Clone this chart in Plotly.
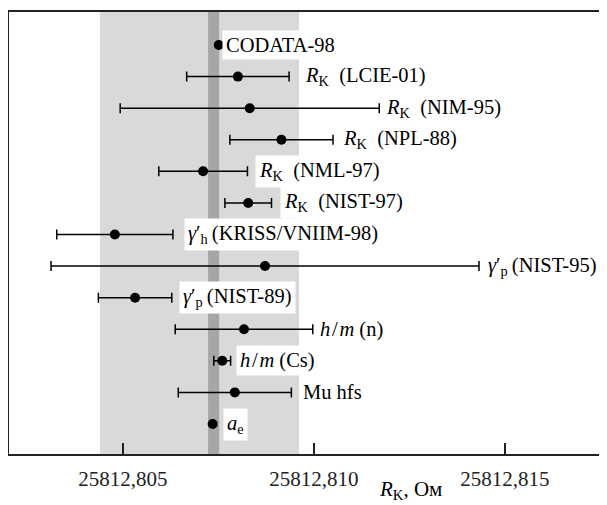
import plotly.graph_objects as go

# Data (values in Ohm)
labels = [
    "CODATA-98",
    "<i>R</i><sub>K</sub>\u2002(LCIE-01)",
    "<i>R</i><sub>K</sub>\u2002(NIM-95)",
    "<i>R</i><sub>K</sub>\u2002(NPL-88)",
    "<i>R</i><sub>K</sub>\u2002(NML-97)",
    "<i>R</i><sub>K</sub>\u2002(NIST-97)",
    "<i>γ</i>′<sub>h</sub>\u2009(KRISS/VNIIM-98)",
    "<i>γ</i>′<sub>p</sub>\u2009(NIST-95)",
    "<i>γ</i>′<sub>p</sub>\u2009(NIST-89)",
    "<i>h</i>\u200a/\u200a<i>m</i> (n)",
    "<i>h</i>\u200a/\u200a<i>m</i> (Cs)",
    "Mu hfs",
    "<i>a</i><sub>e</sub>",
]
values = [
    25812.80751, 25812.80801, 25812.80832, 25812.80915, 25812.80710,
    25812.80828, 25812.80479, 25812.80872, 25812.80532, 25812.80817,
    25812.80760, 25812.80793, 25812.80735,
]
errors = [
    0.0, 0.00134, 0.00339, 0.00135, 0.00116,
    0.00061, 0.00152, 0.00560, 0.00096, 0.00180,
    0.00022, 0.00148, 0.0,
]
rows = list(range(len(labels) - 1, -1, -1))

band_wide = (25812.80440, 25812.80961)
band_codata = (25812.80723, 25812.80752)

tick_vals = [25812.805, 25812.810, 25812.815]
tick_text = ["25812,805", "25812,810", "25812,815"]
x_title = "<i>R</i><sub>K</sub>, Ом"

# label pixel offsets (styling only)
label_shift = [3, 12, 3, 6, 8, 8, 11, 5, 7, 3, 5, 8, 10]

FONT = "Liberation Serif"

fig = go.Figure()
fig.add_trace(go.Scatter(
    x=values, y=rows, mode="markers",
    marker=dict(color="black", size=10),
    error_x=dict(type="data", array=errors, symmetric=True,
                 color="black", thickness=1.5, width=5),
    showlegend=False, hoverinfo="skip",
))

shapes = [
    dict(type="rect", xref="x", yref="paper", x0=band_wide[0], x1=band_wide[1],
         y0=0, y1=1, fillcolor="#d9d9d9", line=dict(width=0), layer="below"),
    dict(type="rect", xref="x", yref="paper", x0=band_codata[0], x1=band_codata[1],
         y0=0, y1=1, fillcolor="#a6a6a6", line=dict(width=0), layer="below"),
]

annotations = []
for lab, v, e, r, s in zip(labels, values, errors, rows, label_shift):
    annotations.append(dict(
        x=v + e, y=r, xref="x", yref="y", text=lab, showarrow=False,
        xanchor="left", yanchor="middle", xshift=s,
        bgcolor="white", borderpad=3,
        font=dict(family=FONT, size=20.5, color="black"),
    ))
annotations.append(dict(
    x=25812.81254, y=0, xref="x", yref="paper", text=x_title, showarrow=False,
    xanchor="center", yanchor="middle", yshift=-36,
    font=dict(family=FONT, size=21, color="black"),
))

# page body has an 8px default margin; the figure is sized/offset to compensate
fig.update_layout(
    width=599, height=497,
    margin=dict(l=1, r=0, t=4, b=51),
    paper_bgcolor="white", plot_bgcolor="white",
    shapes=shapes, annotations=annotations,
    font=dict(family=FONT, size=20, color="black"),
    xaxis=dict(
        range=[25812.80202, 25812.81767], tickvals=tick_vals, ticktext=tick_text,
        ticks="inside", ticklen=11, tickwidth=1.5, tickcolor="#222",
        ticklabelstandoff=5,
        showline=True, linecolor="#222", linewidth=2, mirror=True,
        showgrid=False, zeroline=False,
        tickfont=dict(family=FONT, size=21, color="#222"),
    ),
    yaxis=dict(
        range=[-0.95, 13.045], showticklabels=False, ticks="",
        showline=True, linecolor="#222", linewidth=2, mirror=False,
        showgrid=False, zeroline=False,
    ),
)

fig.write_html("out.html")
